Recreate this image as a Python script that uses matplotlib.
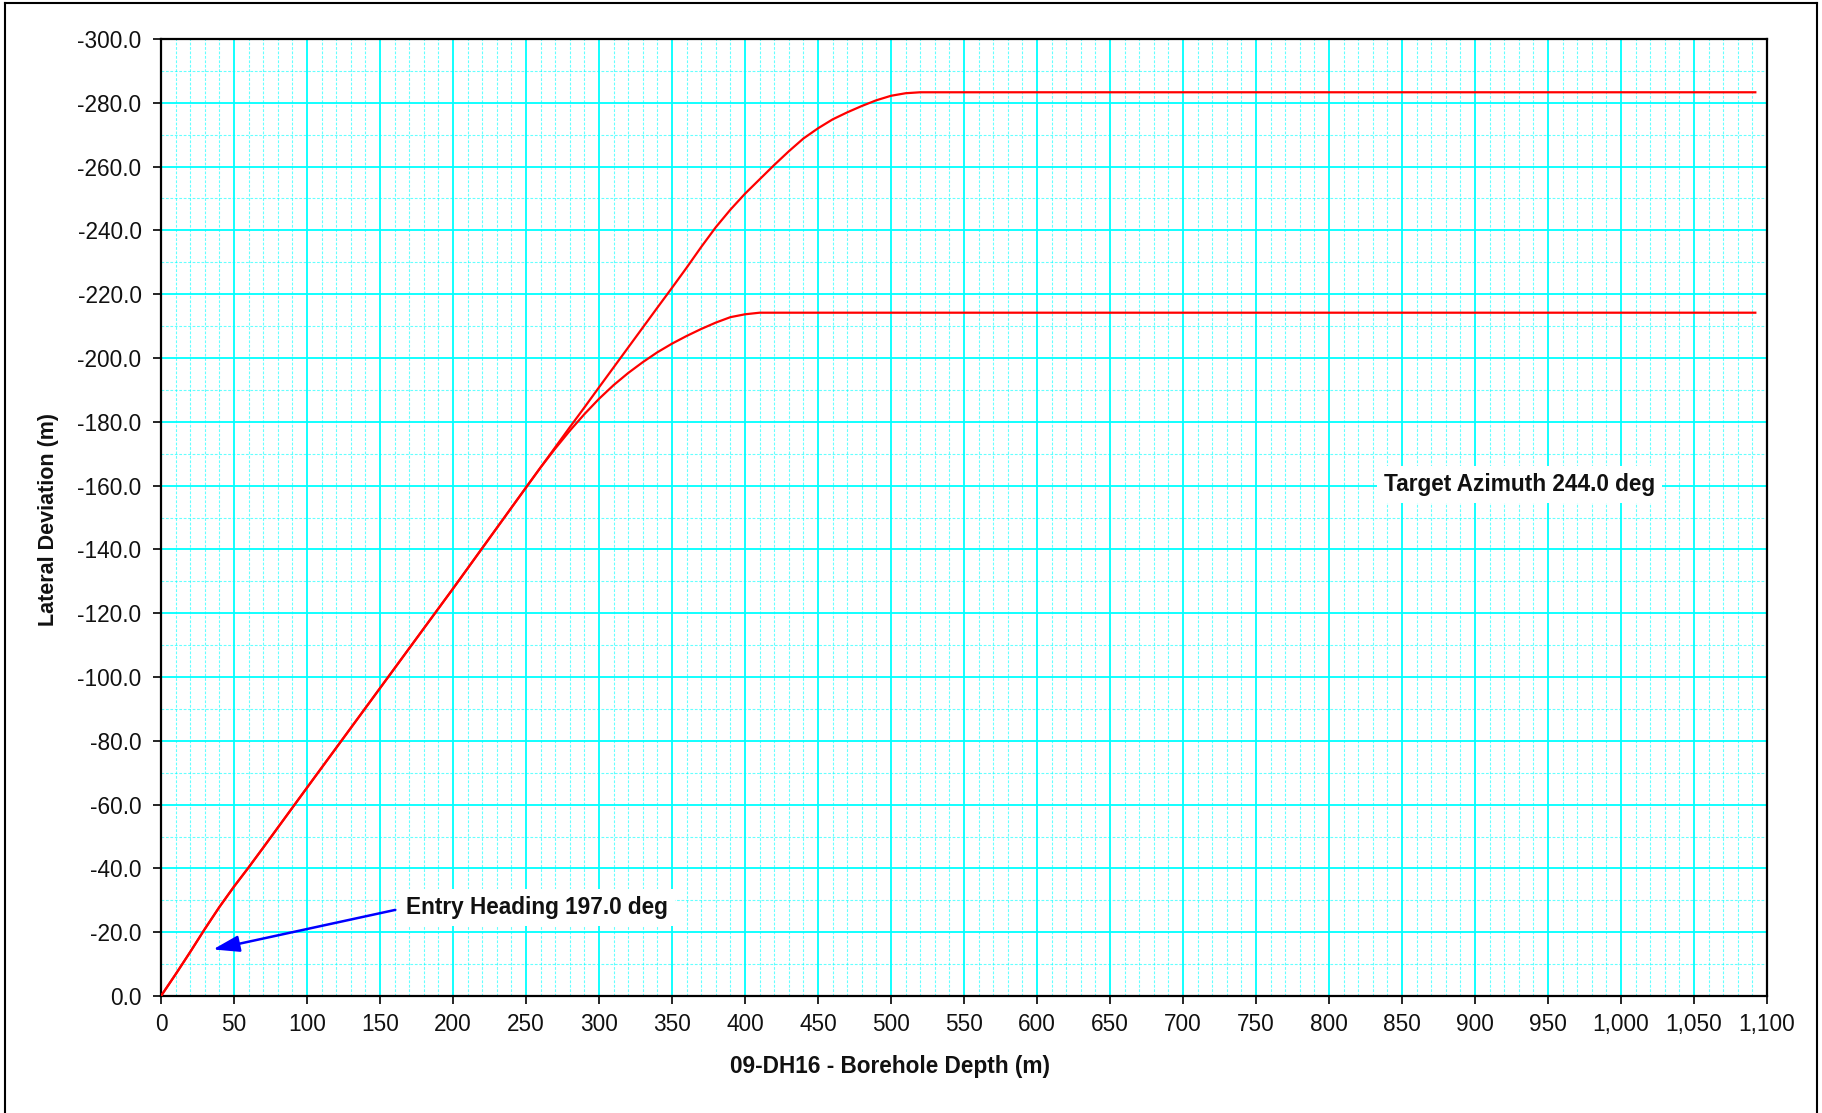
import matplotlib
matplotlib.use("Agg")
import matplotlib.pyplot as plt
from matplotlib.ticker import MultipleLocator, FuncFormatter
from matplotlib.lines import Line2D

plt.rcParams["font.family"] = ["Liberation Sans", "DejaVu Sans"]

# Shared trajectory from the collar down to where the two traces split
shared_depth = [0, 10, 20, 30, 40, 50, 60, 70, 100, 150, 200, 250, 260]
shared_dev = [0.0, -6.8, -13.8, -21.0, -27.9, -34.3, -40.3, -46.5,
              -65.3, -96.5, -127.7, -159.4, -165.7]

# Upper trace (levels out near -283 m)
upper_depth = [270, 280, 290, 300, 320, 340, 350, 360, 370, 380, 390, 400,
               410, 420, 430, 440, 450, 460, 470, 480, 490, 500, 510, 520, 1092]
upper_dev = [-172.0, -178.3, -184.5, -190.8, -203.3, -215.8, -222.0, -228.3,
             -234.8, -241.0, -246.5, -251.5, -256.0, -260.5, -264.8, -268.8,
             -272.0, -274.8, -277.0, -279.0, -280.8, -282.2, -283.0, -283.3, -283.3]

# Lower trace (levels out near -214 m)
lower_depth = [270, 280, 290, 300, 310, 320, 330, 340, 350, 360, 370, 380,
               390, 400, 410, 1092]
lower_dev = [-171.6, -177.2, -182.4, -187.2, -191.5, -195.3, -198.7, -201.8,
             -204.5, -206.9, -209.1, -211.1, -212.8, -213.7, -214.2, -214.2]

x_ticks = list(range(0, 1101, 50))
y_ticks = list(range(-300, 1, 20))

target_label = "Target Azimuth 244.0 deg"
entry_label = "Entry Heading 197.0 deg"
x_label = "09-DH16 - Borehole Depth (m)"
y_label = "Lateral Deviation (m)"

W, H = 1822, 1113
fig = plt.figure(figsize=(W / 100, H / 100), dpi=100)
ax = fig.add_axes([161 / W, 1 - 996 / H, (1767 - 161) / W, (996 - 39) / H])

cyan = "#00FFFF"
ax.set_axisbelow(True)
ax.grid(which="major", color=cyan, linewidth=1.3, linestyle="-")
ax.grid(which="minor", color=cyan, linewidth=0.8, linestyle=(0, (2.5, 1.5)), alpha=0.6)

ax.plot(shared_depth + upper_depth, shared_dev + upper_dev,
        color="#FF0000", linewidth=1.6, zorder=3)
ax.plot(shared_depth + lower_depth, shared_dev + lower_dev,
        color="#FF0000", linewidth=1.6, zorder=3)

ax.set_xlim(0, 1100)
ax.set_ylim(0, -300)
ax.set_xticks(x_ticks)
ax.set_yticks(y_ticks)
ax.xaxis.set_minor_locator(MultipleLocator(10))
ax.yaxis.set_minor_locator(MultipleLocator(10))
ax.xaxis.set_major_formatter(FuncFormatter(lambda v, p: f"{int(round(v)):,}"))
ax.yaxis.set_major_formatter(
    FuncFormatter(lambda v, p: "0.0" if abs(v) < 1e-9 else f"{v:.1f}"))

ax.tick_params(which="major", length=5.5, width=1.2, color="black",
               labelsize=16.3, labelcolor="#111111")
ax.tick_params(axis="y", which="major", pad=8.5)
ax.tick_params(axis="x", which="major", pad=6.5)
ax.tick_params(which="minor", length=0)
for s in ax.spines.values():
    s.set_linewidth(1.6)
    s.set_color("black")

# Text labels on white backgrounds
ax.text(930.7, -160.3, target_label, ha="center", va="center",
        fontsize=16.3, fontweight="bold", color="#111111", zorder=5,
        bbox=dict(facecolor="white", edgecolor="none", pad=5))
ax.text(257.4, -27.7, entry_label, ha="center", va="center",
        fontsize=16.3, fontweight="bold", color="#111111", zorder=5,
        bbox=dict(facecolor="white", edgecolor="none", pad=5))
ax.annotate("", xy=(35.6, -14.6), xytext=(160.5, -27.0),
            arrowprops=dict(arrowstyle="-|>,head_length=0.8,head_width=0.25",
                            mutation_scale=20, color="#0000FF", lw=1.8,
                            shrinkA=0, shrinkB=0), zorder=4)

fig.text(890 / W, 1 - 1067 / H, x_label, ha="center", va="center",
         fontsize=16.3, fontweight="bold", color="#111111")
fig.text(49 / W, 1 - 520 / H, y_label, ha="center", va="center",
         rotation=90, fontsize=15.5, fontweight="bold", color="#111111")

# Frame around the chart (left, top, right)
lx, rx, ty = 5 / W, 1817 / W, 1 - 3 / H
for xs, ys in [([lx, lx], [0, ty]), ([lx, rx], [ty, ty]), ([rx, rx], [ty, 0])]:
    fig.add_artist(Line2D(xs, ys, transform=fig.transFigure,
                          color="black", linewidth=1.5))

fig.savefig("out.png", dpi=100, facecolor="white")
